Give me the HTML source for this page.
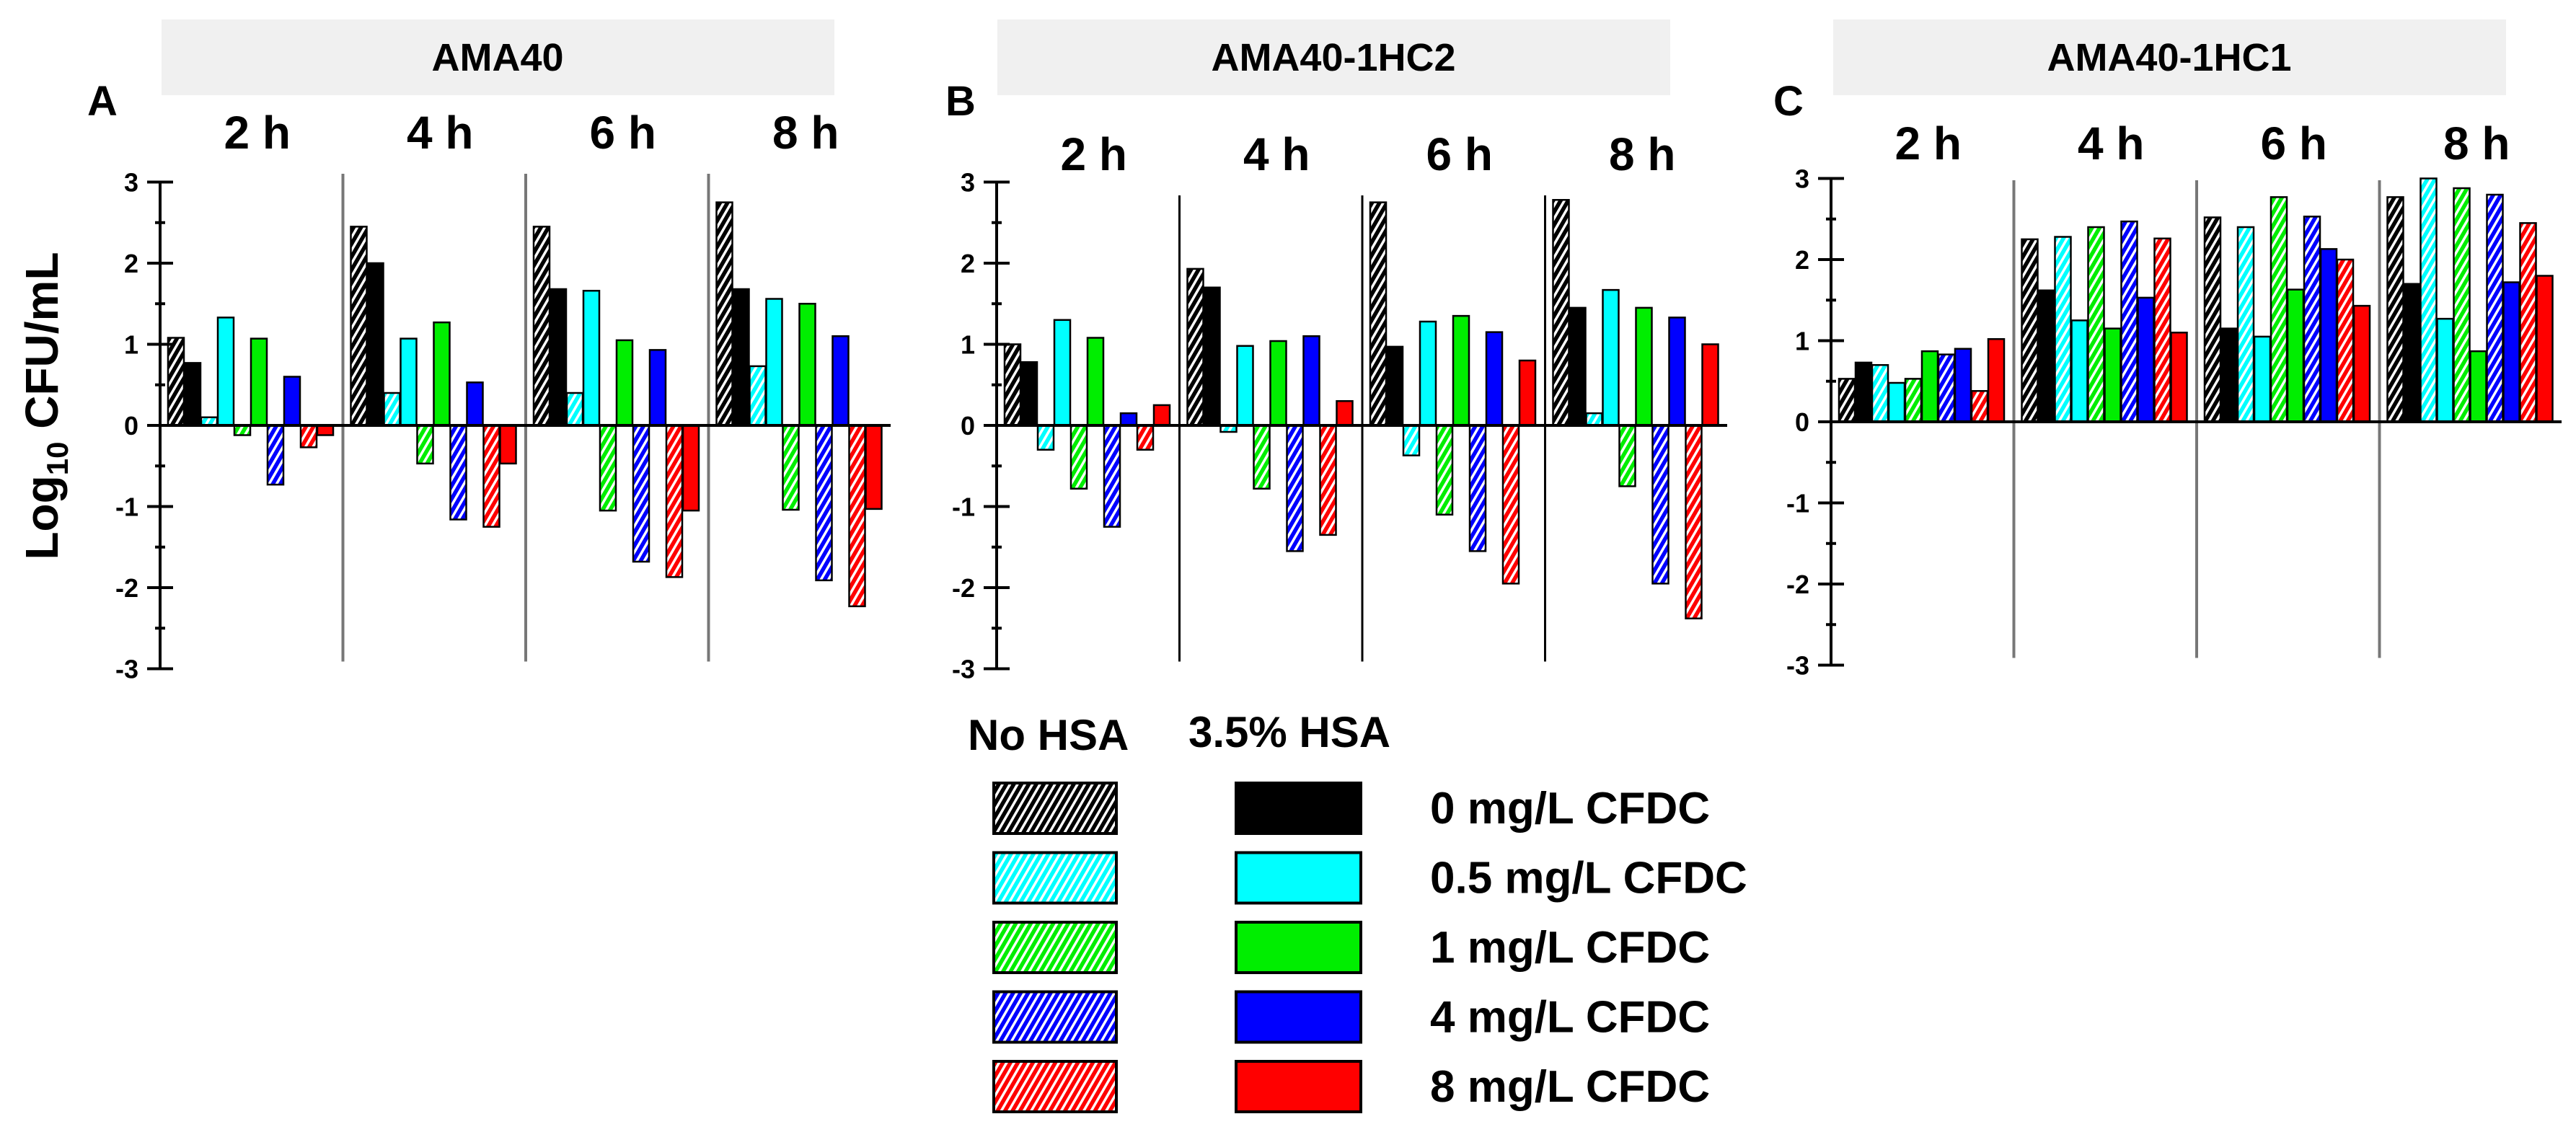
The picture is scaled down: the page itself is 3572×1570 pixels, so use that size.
<!DOCTYPE html>
<html><head><meta charset="utf-8"><style>
html,body{margin:0;padding:0;background:#fff;}
svg text{font-family:"Liberation Sans",Arial,sans-serif;font-weight:bold;fill:#000;}
</style></head><body>
<svg id="fig" width="3572" height="1565" viewBox="0 0 3572 1565" xmlns="http://www.w3.org/2000/svg">
<defs id="defs"></defs>
<g id="root"></g>
</svg>
<script>
const panels = ["AMA40","AMA40-1HC2","AMA40-1HC1"];
const panelLetters = ["A","B","C"];
const timeLabels = ["2 h","4 h","6 h","8 h"];
const seriesNames = ["0 mg/L no HSA","0 mg/L HSA","0.5 mg/L no HSA","0.5 mg/L HSA","1 mg/L no HSA","1 mg/L HSA","4 mg/L no HSA","4 mg/L HSA","8 mg/L no HSA","8 mg/L HSA"];
const legendLabels = ["0 mg/L CFDC","0.5 mg/L CFDC","1 mg/L CFDC","4 mg/L CFDC","8 mg/L CFDC"];
const yTicks = [3,2,1,0,-1,-2,-3];
// values per panel, per time group, 10 bars
const valuesA = [
 [1.08,0.77,0.1,1.33,-0.12,1.07,-0.73,0.6,-0.27,-0.12],
 [2.45,2.0,0.4,1.07,-0.47,1.27,-1.16,0.53,-1.25,-0.47],
 [2.45,1.68,0.4,1.66,-1.05,1.05,-1.68,0.93,-1.87,-1.05],
 [2.75,1.68,0.73,1.56,-1.04,1.5,-1.91,1.1,-2.23,-1.03]];
const valuesB = [
 [1.0,0.78,-0.3,1.3,-0.78,1.08,-1.25,0.15,-0.3,0.25],
 [1.93,1.7,-0.08,0.98,-0.78,1.04,-1.55,1.1,-1.35,0.3],
 [2.75,0.97,-0.37,1.28,-1.1,1.35,-1.55,1.15,-1.95,0.8],
 [2.78,1.45,0.15,1.67,-0.75,1.45,-1.95,1.33,-2.38,1.0]];
const valuesC = [
 [0.53,0.73,0.7,0.48,0.53,0.87,0.83,0.9,0.38,1.02],
 [2.25,1.62,2.28,1.25,2.4,1.15,2.47,1.53,2.26,1.1],
 [2.52,1.15,2.4,1.05,2.77,1.63,2.53,2.13,2.0,1.43],
 [2.77,1.7,3.0,1.27,2.88,0.87,2.8,1.72,2.45,1.8]];
const allValues = [valuesA,valuesB,valuesC];

const NS="http://www.w3.org/2000/svg";
const root=document.getElementById('root');
const defs=document.getElementById('defs');
const colors=["#000000","#00ffff","#00ee00","#0000ff","#ff0000"];
function mk(tag,attrs,parent){const e=document.createElementNS(NS,tag);for(const k in attrs)e.setAttribute(k,attrs[k]);(parent||root).appendChild(e);return e;}
colors.forEach((c,i)=>{
  const p=mk('pattern',{id:'h'+i,patternUnits:'userSpaceOnUse',width:9,height:9,patternTransform:'rotate(30)'},defs);
  mk('rect',{x:0,y:0,width:9,height:9,fill:c},p);
  mk('rect',{x:0,y:0,width:3.5,height:9,fill:'#fff'},p);
});
const axisX=[222,1382,2539];
const zeroY=[590,590,585];
const unit=112.5;
const groupW=253.5;
const dividerStroke=['#777','#000','#777'];
const dividerTop=[241,271,250];
function yS(p,v){return zeroY[p]-v*unit;}

panels.forEach((name,p)=>{
  const ax=axisX[p];
  const g=mk('g',{});
  
  
  const hx=[224,1383,2542][p];
  const hr=mk('rect',{x:hx,y:27,width:933,height:105,fill:'#f0f0f0'},g);
  
  
  const ht=mk('text',{x:hx+466,y:98,'font-size':54,'text-anchor':'middle'},g);ht.textContent=name;
  
  
  const lx=[142,1332,2480][p];
  const lt=mk('text',{x:lx,y:160,'font-size':58,'text-anchor':'middle'},g);lt.textContent=panelLetters[p];
  
  
  const ty=[206,236,221][p];
  timeLabels.forEach((t,gi)=>{
    const tt=mk('text',{x:ax+gi*groupW+groupW/2+8,y:ty,'font-size':64,'text-anchor':'middle'},g);tt.textContent=t;
    
    
    if(gi>0){
      const d=mk('line',{x1:ax+gi*groupW,x2:ax+gi*groupW,y1:dividerTop[p],y2:yS(p,-3)-10,stroke:dividerStroke[p],'stroke-width':p==1?3:4},g);
      
      
    }
  });
  allValues[p].forEach((grp,gi)=>{
    grp.forEach((v,i)=>{
      const x=ax+gi*groupW+11+i*23;
      const y0=yS(p,0), y1=yS(p,v);
      const ci=Math.floor(i/2);
      const fill=(i%2===0)?'url(#h'+ci+')':colors[ci];
      const r=mk('rect',{x:x,y:Math.min(y0,y1),width:22,height:Math.max(1,Math.abs(y1-y0)),fill:fill,stroke:'#000','stroke-width':2.5},g);
      
      
    });
  });
  const zl=mk('line',{x1:ax,x2:ax+1013,y1:yS(p,0),y2:yS(p,0),stroke:'#000','stroke-width':4},g);
  
  
  const ya=mk('line',{x1:ax,x2:ax,y1:yS(p,3),y2:yS(p,-3),stroke:'#000','stroke-width':4},g);
  
  
  yTicks.forEach(v=>{
    const tl=mk('line',{x1:ax-18,x2:ax+18,y1:yS(p,v),y2:yS(p,v),stroke:'#000','stroke-width':4},g);
    
    
    const tx=mk('text',{x:ax-30,y:yS(p,v)+13,'font-size':36,'text-anchor':'end'},g);tx.textContent=String(v);
    
    
    if(v>-3){
      const m=mk('line',{x1:ax-7,x2:ax+7,y1:yS(p,v-0.5),y2:yS(p,v-0.5),stroke:'#000','stroke-width':4},g);
      
      
    }
  });
});
const yl=mk('text',{x:0,y:0,'font-size':64,'text-anchor':'middle',transform:'translate(80,563) rotate(-90)'});
yl.innerHTML='Log<tspan font-size="42" dy="14">10</tspan><tspan dy="-14"> CFU/mL</tspan>';


const lg=mk('g',{});


const h1=mk('text',{x:1342,y:1040,'font-size':60},lg);h1.textContent='No HSA';


const h2=mk('text',{x:1648,y:1036,'font-size':60},lg);h2.textContent='3.5% HSA';


legendLabels.forEach((lab,i)=>{
  const y=1086+i*96.5;
  const a=mk('rect',{x:1378,y:y,width:170,height:70,fill:'url(#h'+i+')',stroke:'#000','stroke-width':4},lg);
  
  
  const b=mk('rect',{x:1714,y:y,width:173,height:70,fill:colors[i],stroke:'#000','stroke-width':4},lg);
  
  
  const t=mk('text',{x:1983,y:y+56,'font-size':62},lg);t.textContent=lab;
  
  
});
</script>
</body></html>
